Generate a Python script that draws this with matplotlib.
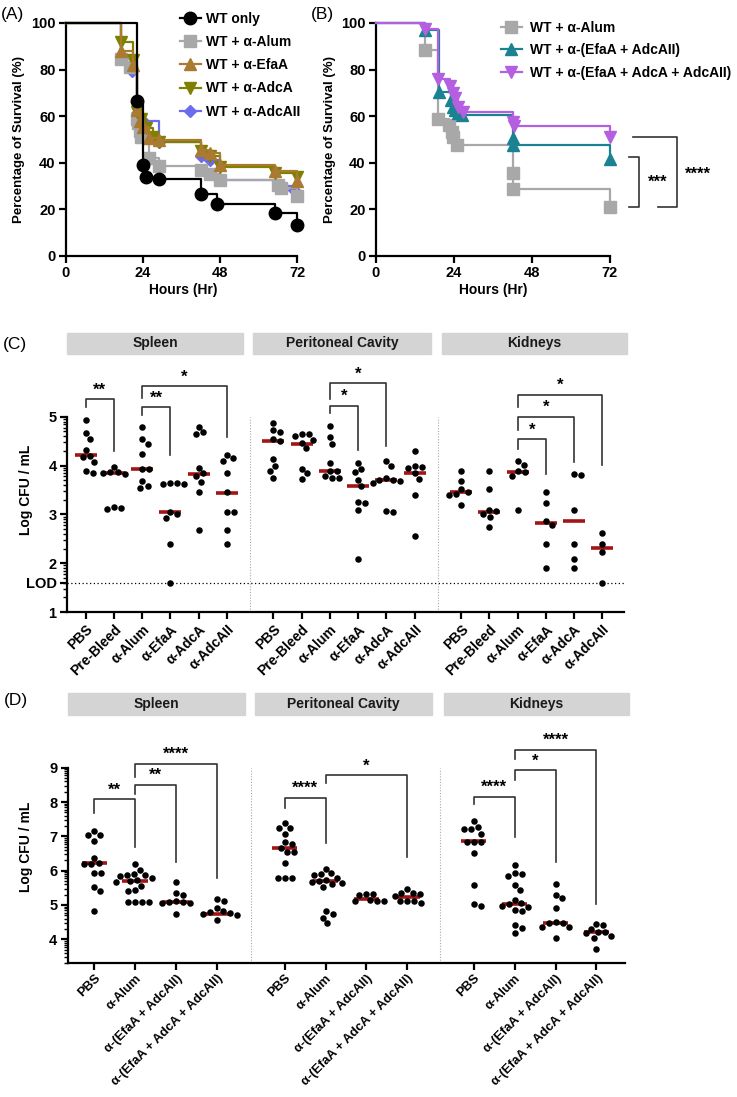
import numpy as np
import matplotlib
matplotlib.use("Agg")
import matplotlib.pyplot as plt
from matplotlib.patches import Rectangle
from matplotlib.lines import Line2D

plt.rcParams['font.family'] = ['Liberation Sans', 'DejaVu Sans']
plt.rcParams['font.weight'] = 'bold'

W, H = 737, 1097
fig = plt.figure(figsize=(W / 100, H / 100), dpi=100)


def fx(px):
    return px / W


def fy(py):
    return 1 - py / H


def add_ax(l, t, r, b):
    return fig.add_axes([fx(l), fy(b), (r - l) / W, (b - t) / H])


# ---------------- DATA ----------------
# Panel A survival (event time in h, % survival after event)
a_labels = ['WT only', 'WT + α-Alum', 'WT + α-EfaA', 'WT + α-AdcA', 'WT + α-AdcAII']
a_wt_t = [22, 24, 25, 29, 42, 47, 65, 72]
a_wt_s = [66.7, 39.0, 34.0, 33.0, 26.7, 22.5, 18.4, 13.3]
a_alum_t = [17, 20, 22, 22.5, 23, 23.5, 26, 29, 42, 45, 48, 66, 67, 72]
a_alum_s = [84.5, 81, 59, 57, 53.5, 51, 42, 38.5, 37, 35, 32.8, 30.6, 29.0, 25.6]
a_efaa_t = [17, 21, 22, 23, 24, 26, 29, 42, 45, 48, 65, 72]
a_efaa_s = [88, 82, 62.5, 58, 55.5, 50.7, 49.7, 45.7, 44, 39, 36.4, 32]
a_adca_t = [17, 21, 22, 23.5, 25, 27, 29, 42, 45, 48, 65, 72]
a_adca_s = [91.7, 84, 62, 59, 55, 51, 49, 45, 43, 38, 35.6, 34]
a_adcaii_t = [17, 20.5, 22, 24, 29, 42, 45, 48, 66, 71]
a_adcaii_s = [86, 79.5, 61.5, 58, 49, 42.8, 41.4, 32.8, 30, 28.5]

# Panel B survival
b_labels = ['WT + α-Alum', 'WT + α-(EfaA + AdcAII)', 'WT + α-(EfaA + AdcA + AdcAII)']
b_alum_t = [15, 19, 22.5, 23.3, 23.6, 25, 42, 42.2, 72]
b_alum_s = [88.2, 58.9, 56.3, 53.4, 51, 47.7, 35.5, 28.8, 21.2]
b_duo_t = [15, 19.3, 23, 23.7, 24.3, 25.3, 26.5, 42, 42.2, 72]
b_duo_s = [97, 70.3, 67, 64, 62.7, 61.3, 60.6, 50.6, 47.7, 41.5]
b_tri_t = [15, 19, 22.8, 23.8, 24.3, 25.3, 26.8, 42, 42.5, 72]
b_tri_s = [97.4, 76, 73, 70, 67.8, 64, 61.6, 57.7, 55.6, 51]
b_sig = ['***', '****']

# Panel C (Log CFU / mL)
organs = ['Spleen', 'Peritoneal Cavity', 'Kidneys']
c_groups = ['PBS', 'Pre-Bleed', 'α-Alum', 'α-EfaA', 'α-AdcA', 'α-AdcAII']
c_spleen = [
    [4.93, 4.66, 4.55, 4.32, 4.2, 4.17, 4.08, 3.89, 3.85],
    [3.98, 3.87, 3.85, 3.86, 3.82, 3.13, 3.15, 3.12],
    [4.8, 4.54, 4.44, 4.23, 3.94, 3.93, 3.69, 3.59, 3.55],
    [3.62, 3.65, 3.65, 3.62, 3.05, 3.0, 2.93, 2.39, 1.6],
    [4.8, 4.69, 4.64, 3.96, 3.84, 3.78, 3.67, 3.45, 2.68],
    [4.22, 4.15, 4.1, 3.84, 3.45, 3.05, 3.05, 2.68, 2.39],
]
c_spleen_med = [4.21, 3.84, 3.94, 3.05, 3.83, 3.43]
c_perit = [
    [4.88, 4.73, 4.68, 4.54, 4.5, 4.13, 3.99, 3.89, 3.74],
    [4.64, 4.64, 4.6, 4.53, 4.47, 4.36, 3.93, 3.84, 3.72],
    [4.82, 4.58, 4.44, 4.05, 3.89, 3.88, 3.78, 3.74, 3.74],
    [4.06, 3.93, 3.86, 3.71, 3.58, 3.26, 3.24, 3.09, 2.08],
    [4.1, 3.99, 3.74, 3.71, 3.69, 3.64, 3.71, 3.07, 3.04],
    [4.3, 3.99, 3.97, 3.95, 3.84, 3.72, 3.39, 2.56],
]
c_perit_med = [4.51, 4.45, 3.88, 3.59, 3.70, 3.84]
c_kid = [
    [3.89, 3.69, 3.52, 3.45, 3.42, 3.4, 3.2],
    [3.88, 3.52, 3.09, 3.06, 3.01, 2.94, 2.75],
    [4.1, 4.02, 3.88, 3.87, 3.79, 3.09],
    [3.46, 3.23, 2.86, 2.78, 2.39, 1.91],
    [3.82, 3.8, 3.09, 2.39, 2.08, 1.91],
    [2.61, 2.39, 2.22, 1.6],
]
c_kid_med = [3.45, 3.04, 3.87, 2.82, 2.87, 2.31]
c_lod = 1.6
# brackets: (organ, group1, group2, bar y, left leg end, right leg end, text y, label)
c_brackets = [
    (0, 0, 1, 5.36, 5.20, 4.29, 5.54, '**'),
    (0, 2, 3, 5.20, 5.04, 4.22, 5.38, '**'),
    (0, 2, 5, 5.64, 5.38, 4.58, 5.81, '*'),
    (1, 2, 3, 5.23, 5.08, 4.32, 5.42, '*'),
    (1, 2, 4, 5.69, 5.36, 4.41, 5.88, '*'),
    (2, 2, 3, 4.54, 4.34, 3.83, 4.73, '*'),
    (2, 2, 4, 5.00, 4.73, 4.08, 5.20, '*'),
    (2, 2, 5, 5.45, 5.20, 4.02, 5.64, '*'),
]

# Panel D
d_groups = ['PBS', 'α-Alum', 'α-(EfaA + AdcAII)', 'α-(EfaA + AdcA + AdcAII)']
d_spleen = [
    [7.15, 7.04, 7.04, 6.87, 6.38, 6.23, 6.2, 6.18, 5.94, 5.94, 5.53, 5.42, 4.82],
    [6.18, 6.02, 5.9, 5.88, 5.87, 5.85, 5.8, 5.72, 5.7, 5.68, 5.55, 5.43, 5.4, 5.1, 5.1, 5.09, 5.09],
    [5.68, 5.36, 5.29, 5.12, 5.1, 5.08, 5.07, 5.05, 4.73],
    [5.17, 5.12, 4.9, 4.82, 4.8, 4.78, 4.75, 4.72, 4.56],
]
d_spleen_med = [6.21, 5.70, 5.09, 4.75]
d_perit = [
    [7.38, 7.25, 7.25, 7.06, 6.84, 6.78, 6.67, 6.55, 6.55, 6.21, 5.8, 5.8, 5.78],
    [6.05, 5.92, 5.9, 5.88, 5.8, 5.72, 5.7, 5.68, 5.65, 5.6, 5.53, 4.82, 4.75, 4.63, 4.46],
    [5.33, 5.33, 5.28, 5.15, 5.12, 5.12, 5.11],
    [5.46, 5.35, 5.35, 5.33, 5.25, 5.11, 5.11, 5.11, 5.05],
]
d_perit_med = [6.67, 5.70, 5.16, 5.22]
d_kid = [
    [7.44, 7.27, 7.2, 7.2, 7.08, 6.84, 6.84, 6.84, 6.52, 5.58, 5.04, 4.98],
    [6.16, 5.94, 5.9, 5.85, 5.58, 5.45, 5.14, 5.05, 5.02, 4.98, 4.95, 4.85, 4.83, 4.41, 4.34, 4.19],
    [5.61, 5.29, 5.21, 4.9, 4.5, 4.48, 4.46, 4.36, 4.36, 4.04],
    [4.45, 4.43, 4.3, 4.22, 4.2, 4.17, 4.1, 4.05, 3.73],
]
d_kid_med = [6.86, 5.03, 4.46, 4.22]
d_brackets = [
    (0, 0, 1, 8.08, 7.69, 6.70, 8.35, '**'),
    (0, 1, 2, 8.51, 8.23, 6.26, 8.79, '**'),
    (0, 1, 3, 9.10, 8.74, 5.80, 9.39, '****'),
    (1, 0, 1, 8.13, 7.82, 6.82, 8.40, '****'),
    (1, 1, 3, 8.79, 8.54, 6.39, 9.05, '*'),
    (2, 0, 1, 8.16, 7.94, 6.97, 8.42, '****'),
    (2, 1, 2, 8.93, 8.64, 6.26, 9.20, '*'),
    (2, 1, 3, 9.52, 9.24, 5.03, 9.79, '****'),
]

# ---------------- STYLE ----------------
C_BLACK = 'black'
C_GRAY = '#A8A8A8'
C_BROWN = '#A97A30'
C_OLIVE = '#808000'
C_BLUE = '#6B6BEE'
C_TEAL = '#1A8290'
C_MAG = '#B45FE0'
C_MED = '#A31515'
C_BR = '#333333'
STAR_FS = 12


def style_axes(ax, fs=9):
    for s in ['top', 'right']:
        ax.spines[s].set_visible(False)
    for s in ['left', 'bottom']:
        ax.spines[s].set_linewidth(1.6)
    ax.tick_params(axis='both', which='major', direction='out', length=5, width=1.6,
                   labelsize=fs, pad=2.5)
    ax.tick_params(axis='both', which='minor', direction='out', length=3, width=1.0)
    for lab in ax.get_xticklabels() + ax.get_yticklabels():
        lab.set_fontweight('bold')


def km(ax, t, s, color, marker, ms, label, z):
    tt = [0] + list(t)
    ss = [100] + list(s)
    ax.step(tt, ss, where='post', color=color, lw=1.6, zorder=z, clip_on=False)
    ax.plot(t, s, ls='none', marker=marker, color=color, ms=ms, zorder=z + 0.5,
            clip_on=False)
    return Line2D([], [], color=color, lw=1.6, marker=marker, ms=ms, label=label)


# ---------------- PANEL A ----------------
axA = add_ax(66, 23, 297, 256)
hA = []
hA.append(km(axA, a_wt_t, a_wt_s, C_BLACK, 'o', 9, a_labels[0], 10))
hA.append(km(axA, a_alum_t, a_alum_s, C_GRAY, 's', 8.5, a_labels[1], 5))
hA.append(km(axA, a_efaa_t, a_efaa_s, C_BROWN, '^', 8.5, a_labels[2], 7))
hA.append(km(axA, a_adca_t, a_adca_s, C_OLIVE, 'v', 8.5, a_labels[3], 6))
hA.append(km(axA, a_adcaii_t, a_adcaii_s, C_BLUE, 'D', 6.5, a_labels[4], 4))
axA.set_xlim(0, 72)
axA.set_ylim(0, 100)
axA.set_xticks([0, 24, 48, 72])
axA.set_yticks([0, 20, 40, 60, 80, 100])
style_axes(axA, 10.5)
axA.set_xlabel('Hours (Hr)', fontsize=10, fontweight='bold')
axA.set_ylabel('Percentage of Survival (%)', fontsize=9.5, fontweight='bold')
axA.xaxis.set_label_coords(0.506, -0.118)
axA.yaxis.set_label_coords(-0.178, 0.5)
axA.legend(handles=hA, loc='upper left', bbox_to_anchor=(fx(180), fy(12)),
           bbox_transform=fig.transFigure, frameon=False,
           prop={'weight': 'bold', 'size': 10}, handlelength=1.5,
           handletextpad=0.4, labelspacing=0.66, borderpad=0, borderaxespad=0)

# ---------------- PANEL B ----------------
axB = add_ax(376, 23, 610, 256)
hB = []
hB.append(km(axB, b_alum_t, b_alum_s, C_GRAY, 's', 8.5, b_labels[0], 5))
hB.append(km(axB, b_duo_t, b_duo_s, C_TEAL, '^', 8.5, b_labels[1], 6))
hB.append(km(axB, b_tri_t, b_tri_s, C_MAG, 'v', 8.5, b_labels[2], 7))
axB.set_xlim(0, 72)
axB.set_ylim(0, 100)
axB.set_xticks([0, 24, 48, 72])
axB.set_yticks([0, 20, 40, 60, 80, 100])
style_axes(axB, 10.5)
axB.set_xlabel('Hours (Hr)', fontsize=10, fontweight='bold')
axB.set_ylabel('Percentage of Survival (%)', fontsize=9.5, fontweight='bold')
axB.xaxis.set_label_coords(0.5, -0.118)
axB.yaxis.set_label_coords(-0.17, 0.5)
axB.legend(handles=hB, loc='upper left', bbox_to_anchor=(fx(501), fy(21)),
           bbox_transform=fig.transFigure, frameon=False,
           prop={'weight': 'bold', 'size': 10}, handlelength=1.5,
           handletextpad=0.6, labelspacing=0.6, borderpad=0, borderaxespad=0)


def ybracket(ax, x_in, x_out, y_top, y_bot, x_in2, label, xt, yt):
    ax.plot([x_in, x_out, x_out, x_in2], [y_top, y_top, y_bot, y_bot], color=C_BR,
            lw=1.2, clip_on=False)
    ax.text(xt, yt, label, ha='center', va='center', fontsize=STAR_FS, clip_on=False)


# *** : duo final vs alum final ; **** : triple final vs alum final
ybracket(axB, 77.8, 80.9, b_duo_s[-1] + 0.9, b_alum_s[-1], 77.8, b_sig[0], 86.6, 31.5)
ybracket(axB, 79.0, 92.6, b_tri_s[-1], b_alum_s[-1], 86.8, b_sig[1], 99.0, 35.0)

# ---------------- PANELS C & D ----------------


def log_minor(lo, hi):
    m = []
    for n in range(int(np.floor(lo)), int(np.ceil(hi)) + 1):
        for k in range(2, 10):
            v = n + np.log10(k)
            if lo < v < hi:
                m.append(v)
    return m


def swarm_x(ax, xc, vals, dot_px):
    vals = np.asarray(vals, float)
    tr = ax.transData
    pts = tr.transform(np.column_stack([np.full(len(vals), xc), vals]))
    x0 = pts[0, 0]
    ys = pts[:, 1]
    order = np.argsort(-vals, kind='stable')
    placed = []
    xs = np.zeros(len(vals))
    for i in order:
        k = 0
        while True:
            cands = [0.0] if k == 0 else [k * 0.5, -k * 0.5]
            ok = None
            for c in cands:
                if all((c - px) ** 2 + (ys[i] - py) ** 2 >= dot_px ** 2 for px, py in placed):
                    ok = c
                    break
            if ok is not None:
                placed.append((ok, ys[i]))
                xs[i] = x0 + ok
                break
            k += 1
    inv = tr.inverted()
    return inv.transform(np.column_stack([xs, ys]))[:, 0]


def strip_panel(ax, organ_data, organ_meds, offsets, half_w, groups, brackets, lab_fs):
    ticks, labels = [], []
    for oi, (data, meds) in enumerate(zip(organ_data, organ_meds)):
        for gi, (vals, med) in enumerate(zip(data, meds)):
            xc = offsets[oi] + gi
            xs = swarm_x(ax, xc, vals, 7.0)
            ax.scatter(xs, vals, s=22, color='black', zorder=4, linewidths=0,
                       clip_on=False)
            ax.plot([xc - half_w, xc + half_w], [med, med], color=C_MED, lw=2.6,
                    zorder=3, solid_capstyle='butt')
            ticks.append(xc)
            labels.append(groups[gi])
    for (oi, g1, g2, yb, yl, yr, yt, lab) in brackets:
        x1 = offsets[oi] + g1
        x2 = offsets[oi] + g2
        ax.plot([x1, x1, x2, x2], [yl, yb, yb, yr], color=C_BR, lw=1.2,
                clip_on=False, zorder=2)
        ax.text((x1 + x2) / 2, yt, lab, ha='center', va='center', fontsize=STAR_FS,
                clip_on=False)
    ax.set_xticks(ticks)
    ax.set_xticklabels(labels, rotation=45, ha='right', rotation_mode='anchor',
                       fontsize=lab_fs, fontweight='bold')


def strips(top, bottom, boxes):
    for (l, r), name in zip(boxes, organs):
        fig.patches.append(Rectangle((fx(l), fy(bottom)), (r - l) / W, (bottom - top) / H,
                                     transform=fig.transFigure, color='#D4D4D4',
                                     zorder=0))
        fig.text(fx((l + r) / 2), fy((top + bottom) / 2), name, ha='center',
                 va='center', fontsize=10, fontweight='bold', color='#1a1a1a')


# Panel C
axC = add_ax(67, 368, 624, 612)
c_off = [0, 6.65, 13.3]
axC.set_xlim(-0.66, 19.07)
axC.set_ylim(1, 6)
axC.spines['left'].set_bounds(1, 5)
axC.set_yticks([1, c_lod, 2, 3, 4, 5])
axC.set_yticklabels(['1', 'LOD', '2', '3', '4', '5'])
axC.set_yticks(log_minor(1, 5), minor=True)
axC.axhline(c_lod, color='black', ls=(0, (1, 2)), lw=0.9, zorder=1)
for s in [c_off[1] - 0.82, c_off[2] - 0.83]:
    axC.plot([s, s], [1, 5], color='#AAAAAA', ls=(0, (1, 1.5)), lw=0.8, zorder=1)
strip_panel(axC, [c_spleen, c_perit, c_kid], [c_spleen_med, c_perit_med, c_kid_med],
            c_off, 0.39, c_groups, c_brackets, 10)
style_axes(axC, 10.5)
axC.tick_params(axis='x', labelsize=10)
axC.set_ylabel('Log CFU / mL', fontsize=10, fontweight='bold')
axC.yaxis.set_label_coords(-0.061, 0.5)
strips(333, 354, [(67, 243), (253, 431), (442, 627)])

# Panel D
axD = add_ax(67.7, 733.4, 625, 963.3)
d_off = [0, 4.66, 9.29]
axD.set_xlim(-0.65, 12.99)
axD.set_ylim(3.3, 10)
axD.spines['left'].set_bounds(3.3, 9)
axD.set_yticks([4, 5, 6, 7, 8, 9])
axD.set_yticks(log_minor(3.3, 9), minor=True)
for s in [d_off[1] - 0.83, d_off[2] - 0.82]:
    axD.plot([s, s], [3.3, 9], color='#AAAAAA', ls=(0, (1, 1.5)), lw=0.8, zorder=1)
strip_panel(axD, [d_spleen, d_perit, d_kid], [d_spleen_med, d_perit_med, d_kid_med],
            d_off, 0.31, d_groups, d_brackets, 9.3)
style_axes(axD, 10.5)
axD.tick_params(axis='x', labelsize=9.3, pad=1.5)
axD.set_ylabel('Log CFU / mL', fontsize=10, fontweight='bold')
axD.yaxis.set_label_coords(-0.062, 0.506)
strips(693, 715, [(68, 245), (255, 432), (444, 629)])

# panel labels
for lab, x, y in [('(A)', 13, 14), ('(B)', 322, 14), ('(C)', 15, 345), ('(D)', 16, 700)]:
    fig.text(fx(x), fy(y), lab, ha='center', va='center', fontsize=12.5,
             fontweight='normal')

fig.savefig('out.png', dpi=100)
